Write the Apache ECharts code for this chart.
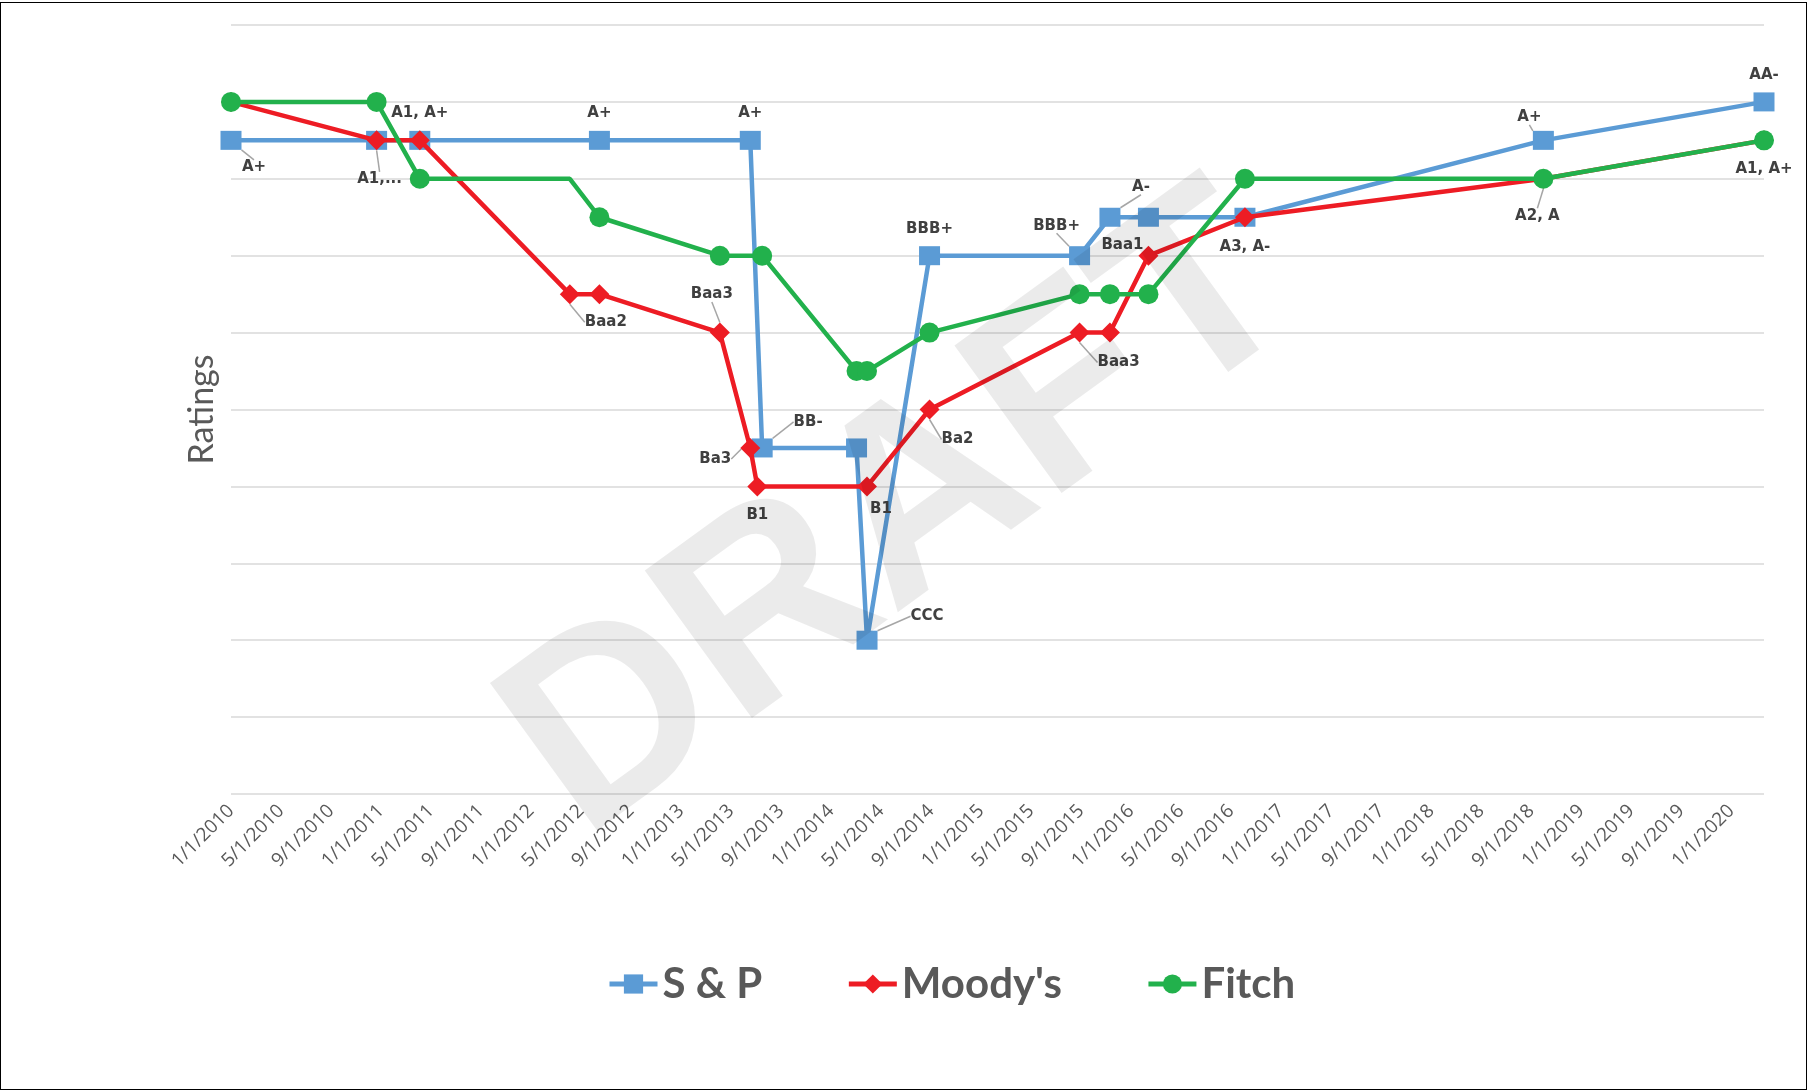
<!DOCTYPE html>
<html>
<head>
<meta charset="utf-8">
<title>Ratings</title>
<script src="https://cdn.jsdelivr.net/npm/echarts@6/dist/echarts.min.js"></script>
<style>
  html, body { margin: 0; padding: 0; background: #fff; }
  .ratings { width: 1809px; height: 1091px; }
  .frame { position: absolute; left: 0; top: 2px; width: 1807px; height: 1088px;
           border: 1.5px solid #000; box-sizing: border-box; pointer-events: none; }
</style>
</head>
<body>
<div class="ratings"></div>
<div class="frame"></div>
<script>
// 评级换算成档位：AA-/Aa3 = 18, A+/A1 = 17, A/A2 = 16 ... B1 = 8 ... CCC = 4
var spDates = ["2010-01-01", "2010-12-21", "2011-04-04", "2012-06-15", "2013-06-17", "2013-07-16",
               "2014-03-02", "2014-03-28", "2014-08-28", "2015-08-28", "2015-11-10", "2016-02-12",
               "2016-10-04", "2018-09-30", "2020-03-20"];
var spValues = [17, 17, 17, 17, 17, 9, 9, 4, 14, 14, 15, 15, 15, 17, 18];
var spLabels = ["A+", "", "", "A+", "A+", "BB-", "", "CCC", "BBB+", "BBB+", "A-", "", "", "A+", "AA-"];

var moodyDates = ["2010-01-01", "2010-12-21", "2011-04-04", "2012-04-04", "2012-06-15", "2013-04-04",
                  "2013-06-17", "2013-07-04", "2014-03-28", "2014-08-28", "2015-08-28", "2015-11-10",
                  "2016-02-12", "2016-10-04", "2018-09-30", "2020-03-20"];
var moodyValues = [18, 17, 17, 13, 13, 12, 9, 8, 8, 10, 12, 12, 14, 15, 16, 17];
var moodyLabels = ["", "A1,...", "A1, A+", "Baa2", "", "Baa3", "Ba3", "B1", "B1", "Ba2", "Baa3", "",
                   "Baa1", "A3, A-", "A2, A", "A1, A+"];

var fitchDates = ["2010-01-01", "2010-12-21", "2011-04-04", "2012-04-04", "2012-06-15", "2013-04-04",
                  "2013-07-16", "2014-03-02", "2014-03-28", "2014-08-28", "2015-08-28", "2015-11-10",
                  "2016-02-12", "2016-10-04", "2018-09-30", "2020-03-20"];
var fitchValues = [18, 18, 16, 16, 15, 14, 14, 11, 11, 12, 13, 13, 13, 16, 16, 17];
var fitchLabels = ["", "", "", "", "", "", "", "", "", "", "", "", "", "", "", ""];
var fitchHiddenMarkers = ["2012-04-04"];

var seriesNames = ["S & P", "Moody's", "Fitch"];
var myColor = ["#5B9BD5", "#ED1C24", "#22B14C"];

// 标签偏移 (相对数据点)，以及带引导线的标签
var labelOffsets = [
  { 0: [23, 27], 3: [0, -27], 4: [0, -27], 5: [46, -26], 7: [60, -24], 8: [0, -27],
    9: [-23, -30], 10: [31, -30], 13: [-14, -23], 14: [0, -27] },
  { 1: [3, 39], 2: [0, -27], 3: [36, 28], 5: [-8, -38], 6: [-35, 11], 7: [0, 29], 8: [14, 23],
    9: [28, 30], 10: [39, 30], 12: [-26, -11], 13: [0, 30], 14: [-6, 37], 15: [0, 29] },
  {}
];
var leaderLines = [[0, 5, 7, 9, 10, 13], [1, 3, 5, 6, 9, 10, 14], []];

// 日期 -> 自 2010/1/1 起的月数
function toMonth(s) {
  var p = s.split("-").map(Number);
  var dim = new Date(p[0], p[1], 0).getDate();
  return (p[0] - 2010) * 12 + (p[1] - 1) + (p[2] - 1) / dim;
}

function buildData(dates, values, labels, si, hidden) {
  return dates.map(function (d, i) {
    var item = {
      value: [toMonth(d), values[i]],
      label: { show: labels[i] !== "", formatter: labels[i] },
      labelLine: { show: leaderLines[si].indexOf(i) > -1 }
    };
    if (hidden && hidden.indexOf(d) > -1) {
      item.symbol = "none";
    }
    return item;
  });
}

(() => {
  var myChart = echarts.init(document.querySelector(".ratings"));
  var maxMonth = toMonth(spDates[spDates.length - 1]);

  var allData = [
    buildData(spDates, spValues, spLabels, 0),
    buildData(moodyDates, moodyValues, moodyLabels, 1),
    buildData(fitchDates, fitchValues, fitchLabels, 2, fitchHiddenMarkers)
  ];
  var symbols = ["rect", "diamond", "circle"];
  var symbolSizes = [[21, 19], [20, 20], 20];

  var series = seriesNames.map(function (name, si) {
    return {
      name: name,
      type: "line",
      data: allData[si],
      symbol: symbols[si],
      symbolSize: symbolSizes[si],
      showAllSymbol: true,
      lineStyle: { color: myColor[si], width: 4.5 },
      itemStyle: { color: myColor[si] },
      label: {
        position: "inside",
        color: "#404040",
        fontFamily: "DejaVu Sans",
        fontWeight: "bold",
        fontSize: 15
      },
      labelLine: {
        show: false,
        lineStyle: { color: "#a6a6a6", width: 1.5 }
      },
      labelLayout: function (params) {
        var o = labelOffsets[params.seriesIndex][params.dataIndex];
        return o ? { dx: o[0], dy: o[1] } : {};
      },
      emphasis: { disabled: true },
      z: 2 + si
    };
  });

  var option = {
    backgroundColor: "#fff",
    animation: false,
    grid: {
      left: 231,
      right: 45,
      top: 25,
      bottom: 297
    },
    legend: {
      top: 958,
      left: 602,
      itemWidth: 48,
      itemHeight: 24,
      itemGap: 84,
      lineStyle: { width: 5 },
      textStyle: {
        color: "#595959",
        fontFamily: "Lato",
        fontWeight: "bold",
        fontSize: 42
      },
      data: seriesNames
    },
    xAxis: {
      type: "value",
      min: 0,
      max: maxMonth,
      interval: 4,
      axisLine: { show: false },
      axisTick: { show: false },
      splitLine: { show: false },
      axisLabel: {
        rotate: 45,
        margin: 14,
        color: "#595959",
        fontFamily: "Open Sans",
        fontSize: 19,
        showMaxLabel: false,
        formatter: function (v) {
          if (Math.abs(v % 4) > 1e-6) return "";
          var y = 2010 + Math.floor(v / 12);
          var m = Math.round(v % 12) + 1;
          return m + "/1/" + y;
        }
      }
    },
    yAxis: {
      type: "value",
      min: 0,
      max: 20,
      interval: 2,
      name: "Ratings",
      nameLocation: "middle",
      nameRotate: 90,
      nameGap: 12,
      nameTextStyle: {
        color: "#595959",
        fontFamily: "Lato",
        fontSize: 34
      },
      axisLine: { show: false },
      axisTick: { show: false },
      axisLabel: { show: false },
      splitLine: { lineStyle: { color: "#d9d9d9", width: 1.5 } }
    },
    graphic: [
      {
        type: "text",
        x: 903,
        y: 518,
        rotation: Math.PI * 36 / 180,
        z: 100,
        silent: true,
        style: {
          text: "DRAFT",
          font: 'bold 265px "Liberation Sans"',
          fill: "rgba(0,0,0,0.08)",
          align: "center",
          verticalAlign: "middle"
        }
      }
    ],
    series: series
  };

  myChart.setOption(option);
  window.addEventListener("resize", function () {
    myChart.resize();
  });
})();
</script>
</body>
</html>
